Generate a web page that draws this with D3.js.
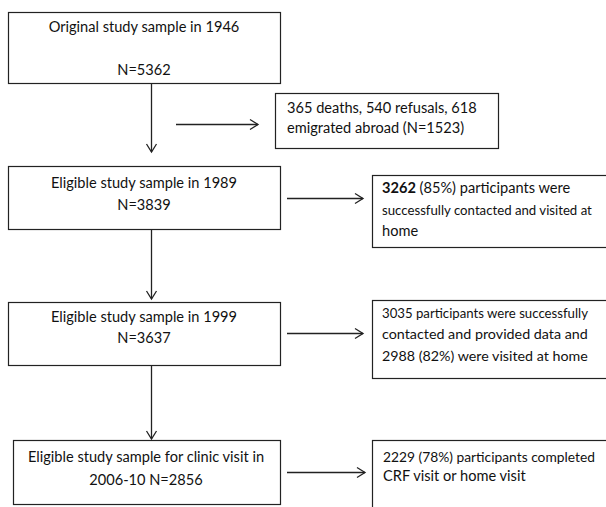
<!DOCTYPE html>
<html><head><meta charset="utf-8">
<script src="https://cdn.jsdelivr.net/npm/d3@7"></script>
<style>html,body{margin:0;padding:0;background:#fff;}svg{display:block;}</style>
</head><body>
<svg id="c" width="606" height="507"></svg>
<script>
// ---- data ----
const stageLabels = ["Original study sample in 1946", "Eligible study sample in 1989", "Eligible study sample in 1999", "Eligible study sample for clinic visit in"];
const stageCounts = ["N=5362", "N=3839", "N=3637", "2006-10 N=2856"];
const outcomeLines = [
  ["365 deaths, 540 refusals, 618", "emigrated abroad (N=1523)"],
  ["|3262| (85%) participants were", "successfully contacted and visited at", "home"],
  ["3035 participants were successfully", "contacted and provided data and", "2988 (82%) were visited at home"],
  ["2229 (78%) participants completed", "CRF visit or home visit"]
];

// ---- layout ----
const mainBoxes = [
  {x:8, y:12, w:272, h:71, cx:144, base:[32,75]},
  {x:8, y:166, w:272, h:63, cx:144, base:[188,210]},
  {x:8, y:302, w:272, h:63, cx:144, base:[322,343]},
  {x:13, y:440, w:267, h:64, cx:146, base:[462,485]}
];
const sideBoxes = [
  {x:275, y:93, w:223, h:55, tx:287, maxW:205, base:[113,133]},
  {x:372, y:175, w:240, h:72, tx:382, maxW:210, base:[193,215,236]},
  {x:372, y:300, w:240, h:78, tx:382, maxW:206, base:[318,339,361]},
  {x:372, y:440, w:240, h:80, tx:383, maxW:212, base:[462,481]}
];
const vArrows = [[83,152],[229,299],[365,439]];
const hArrows = [{x1:176,x2:258,y:124},{x1:287,x2:363,y:198},{x1:287,x2:363,y:333},{x1:287,x2:365,y:472}];

const svg = d3.select("#c");
const font = "Lato, 'Open Sans', sans-serif";
const fs = 14.6;
const ink = "#222";

svg.selectAll("rect.main").data(mainBoxes).join("rect")
  .attr("x", d=>d.x+0.5).attr("y", d=>d.y+0.5).attr("width", d=>d.w).attr("height", d=>d.h)
  .attr("fill","#fff").attr("stroke", ink).attr("stroke-width",1.2);
svg.selectAll("rect.side").data(sideBoxes).join("rect")
  .attr("x", d=>d.x+0.5).attr("y", d=>d.y+0.5).attr("width", d=>d.w).attr("height", d=>d.h)
  .attr("fill","#fff").attr("stroke", ink).attr("stroke-width",1.2);

mainBoxes.forEach((b,i)=>{
  [stageLabels[i], stageCounts[i]].forEach((t,j)=>{
    svg.append("text").attr("x", b.cx).attr("y", b.base[j]).attr("text-anchor","middle")
      .attr("font-family", font).attr("font-size", fs).attr("fill","#111").text(t);
  });
});
sideBoxes.forEach((b,i)=>{
  outcomeLines[i].forEach((t,j)=>{
    const tx = svg.append("text").attr("x", b.tx).attr("y", b.base[j])
      .attr("font-family", font).attr("font-size", fs).attr("fill","#111");
    const parts = t.split("|");
    parts.forEach((p,k)=>{ if(p.length) tx.append("tspan").attr("font-weight", k%2===1?"bold":null).text(p); });
    const len = tx.node().getComputedTextLength();
    if (len > b.maxW) tx.attr("font-size", fs * b.maxW / len);
  });
});

const ax = 151;
const ah = 8, aw = 5;
vArrows.forEach(([y1,y2])=>{
  svg.append("line").attr("x1",ax+0.5).attr("x2",ax+0.5).attr("y1",y1).attr("y2",y2)
    .attr("stroke", ink).attr("stroke-width",1.3);
  svg.append("path").attr("d",`M${ax+0.5-aw},${y2-ah}L${ax+0.5},${y2}L${ax+0.5+aw},${y2-ah}`)
    .attr("fill","none").attr("stroke", ink).attr("stroke-width",1.3);
});
hArrows.forEach(a=>{
  svg.append("line").attr("x1",a.x1).attr("x2",a.x2).attr("y1",a.y+0.5).attr("y2",a.y+0.5)
    .attr("stroke", ink).attr("stroke-width",1.3);
  svg.append("path").attr("d",`M${a.x2-ah},${a.y+0.5-aw}L${a.x2},${a.y+0.5}L${a.x2-ah},${a.y+0.5+aw}`)
    .attr("fill","none").attr("stroke", ink).attr("stroke-width",1.3);
});
</script>
</body></html>
